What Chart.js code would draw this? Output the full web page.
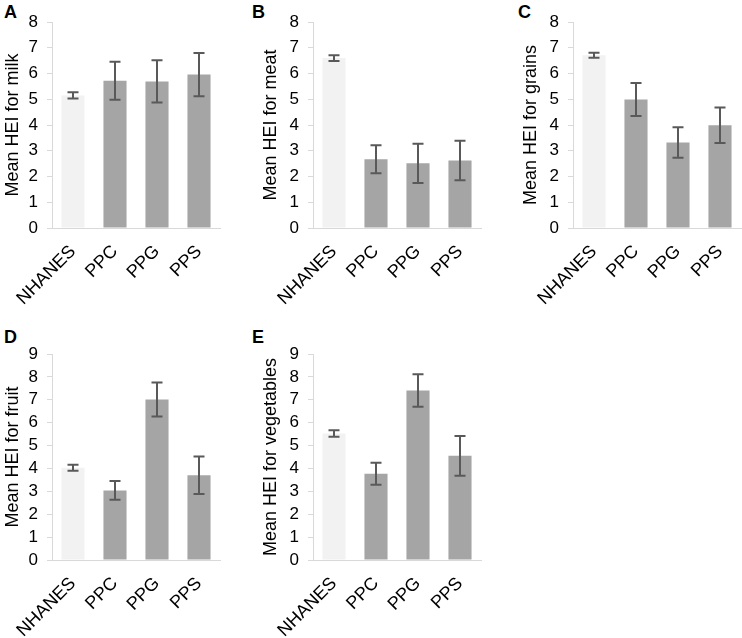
<!DOCTYPE html>
<html>
<head>
<meta charset="utf-8">
<script src="https://cdn.jsdelivr.net/npm/chart.js@4"></script>
<style>
  body { margin: 0; background: #fff; }
  #wrap { position: relative; width: 742px; height: 638px; overflow: hidden;
          font-family: "Liberation Sans", Arial, sans-serif; }
  .panel { position: absolute; }
  .letter { position: absolute; font-weight: bold; font-size: 18px; line-height: 18px; color: #000; }
</style>
</head>
<body>
<div id="wrap">
  <div class="letter" style="left:4px;top:3px">A</div>
  <div class="letter" style="left:252px;top:3px">B</div>
  <div class="letter" style="left:518px;top:3px">C</div>
  <div class="letter" style="left:4px;top:328px">D</div>
  <div class="letter" style="left:252px;top:328px">E</div>

  <div class="panel" style="left:0;top:0"><canvas id="chartA" width="221" height="320"></canvas></div>
  <div class="panel" style="left:261px;top:0"><canvas id="chartB" width="221" height="320"></canvas></div>
  <div class="panel" style="left:521px;top:0"><canvas id="chartC" width="221" height="320"></canvas></div>
  <div class="panel" style="left:0;top:320px"><canvas id="chartD" width="221" height="318"></canvas></div>
  <div class="panel" style="left:261px;top:320px"><canvas id="chartE" width="221" height="318"></canvas></div>
</div>
<script>
var groups = ['NHANES', 'PPC', 'PPG', 'PPS'];

var milkMeans = [5.15, 5.72, 5.69, 5.96];
var milkErrors = [0.12, 0.74, 0.82, 0.84];

var meatMeans = [6.6, 2.67, 2.51, 2.62];
var meatErrors = [0.11, 0.54, 0.76, 0.77];

var grainsMeans = [6.71, 4.99, 3.32, 3.99];
var grainsErrors = [0.1, 0.64, 0.59, 0.69];

var fruitMeans = [4.03, 3.04, 7.01, 3.7];
var fruitErrors = [0.13, 0.41, 0.74, 0.82];

var vegMeans = [5.53, 3.77, 7.4, 4.55];
var vegErrors = [0.14, 0.48, 0.71, 0.87];

var topRowMax = 8;
var bottomRowMax = 9;

var barColors = ['#f2f2f2', '#a5a5a5', '#a5a5a5', '#a5a5a5'];
var axisColor = '#d9d9d9';
var fontFamily = '"Liberation Sans", Arial, sans-serif';

// draws the +/- whiskers on top of each bar
var errorBars = {
    id: 'errorBars',
    afterDatasetsDraw: function (chart) {
        var ctx = chart.ctx;
        var yScale = chart.scales.y;
        chart.data.datasets.forEach(function (ds, i) {
            var meta = chart.getDatasetMeta(i);
            meta.data.forEach(function (bar, j) {
                var v = ds.data[j], e = ds.errors[j];
                var top = yScale.getPixelForValue(v + e);
                var bottom = yScale.getPixelForValue(v - e);
                ctx.save();
                ctx.strokeStyle = '#595959';
                ctx.lineWidth = 2;
                ctx.beginPath();
                ctx.moveTo(bar.x, top);
                ctx.lineTo(bar.x, bottom);
                ctx.moveTo(bar.x - 5.5, top);
                ctx.lineTo(bar.x + 5.5, top);
                ctx.moveTo(bar.x - 5.5, bottom);
                ctx.lineTo(bar.x + 5.5, bottom);
                ctx.stroke();
                ctx.restore();
            });
        });
    }
};

function makeChart(id, title, means, errors, yMax, plotTop, axisHeight, titlePad) {
    return new Chart(document.getElementById(id), {
        type: 'bar',
        data: {
            labels: groups,
            datasets: [{
                data: means,
                errors: errors,
                backgroundColor: barColors,
                borderWidth: 0,
                categoryPercentage: 1,
                barPercentage: 0.55
            }]
        },
        options: {
            responsive: false,
            animation: false,
            layout: { padding: { top: plotTop, right: 1, left: 0, bottom: 0 } },
            plugins: { legend: { display: false }, tooltip: { enabled: false } },
            scales: {
                x: {
                    grid: { display: false },
                    border: { display: true, color: axisColor, width: 1 },
                    ticks: {
                        color: '#000',
                        font: { family: fontFamily, size: 18 },
                        minRotation: 45,
                        maxRotation: 45,
                        autoSkip: false,
                        padding: 5
                    },
                    afterFit: function (scale) {
                        scale.height = axisHeight;
                        scale.paddingLeft = 0;
                        scale.paddingRight = 0;
                    }
                },
                y: {
                    min: 0,
                    max: yMax,
                    grid: { display: true, drawOnChartArea: false, drawTicks: true, tickLength: 5, color: axisColor },
                    border: { display: true, color: axisColor, width: 1 },
                    ticks: {
                        stepSize: 1,
                        autoSkip: false,
                        color: '#000',
                        font: { family: fontFamily, size: 17 },
                        padding: 9
                    },
                    title: {
                        display: true,
                        text: title,
                        color: '#000',
                        font: { family: fontFamily, size: 18 },
                        padding: { top: titlePad, bottom: 0 }
                    },
                    afterFit: function (scale) {
                        scale.width = 52;
                        scale.paddingTop = 0;
                        scale.paddingBottom = 0;
                    }
                }
            }
        },
        plugins: [errorBars]
    });
}

makeChart('chartA', 'Mean HEI for milk', milkMeans, milkErrors, topRowMax, 22, 92, 2);
makeChart('chartB', 'Mean HEI for meat', meatMeans, meatErrors, topRowMax, 22, 92, -1);
makeChart('chartC', 'Mean HEI for grains', grainsMeans, grainsErrors, topRowMax, 22, 92, -1);
makeChart('chartD', 'Mean HEI for fruit', fruitMeans, fruitErrors, bottomRowMax, 34, 78, 2);
makeChart('chartE', 'Mean HEI for vegetables', vegMeans, vegErrors, bottomRowMax, 34, 78, -1);
</script>
</body>
</html>
